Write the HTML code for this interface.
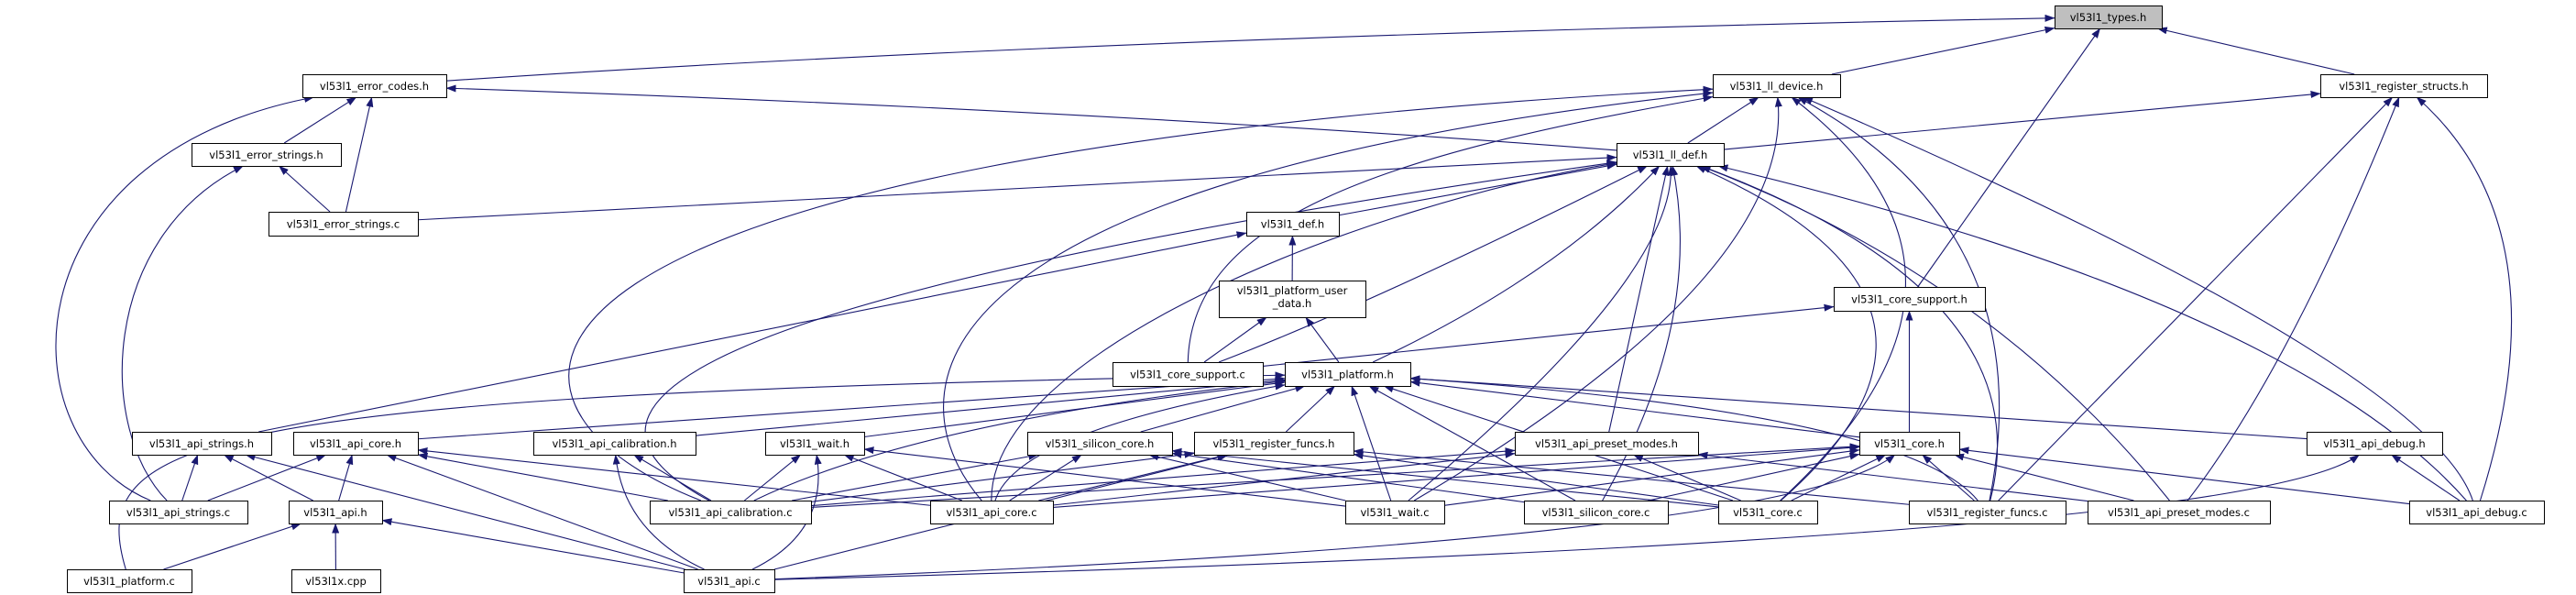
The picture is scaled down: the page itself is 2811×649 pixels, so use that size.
<!DOCTYPE html>
<html><head><meta charset="utf-8">
<style>
html,body{margin:0;padding:0;background:#fff;}
svg{display:block;}
text{font-family:"DejaVu Sans","Liberation Sans",sans-serif;font-size:11.5px;fill:#000;}
</style></head>
<body>
<svg id="g" width="2811" height="649" viewBox="0 0 2811 649" xmlns="http://www.w3.org/2000/svg">
<defs>
<marker id="a" markerUnits="userSpaceOnUse" markerWidth="11" markerHeight="8" refX="10.5" refY="4" orient="auto">
<path d="M0,0 L11,4 L0,8 z" fill="#191970"/>
</marker>
</defs>
<g id="edges" fill="none" stroke="#191970" stroke-width="1.1"></g>
<g id="nodes"></g>
</svg>
<script>
var N={
types:[2242,6,117,25,"vl53l1_types.h",1],
error_codes:[330,81,157,25,"vl53l1_error_codes.h"],
ll_device:[1869,81,139,25,"vl53l1_ll_device.h"],
register_structs:[2532,81,182,25,"vl53l1_register_structs.h"],
error_strings_h:[209,156,163,25,"vl53l1_error_strings.h"],
ll_def:[1764,156,117,25,"vl53l1_ll_def.h"],
error_strings_c:[293,231,163,26,"vl53l1_error_strings.c"],
def:[1360,231,101,26,"vl53l1_def.h"],
core_support_h:[2001,313,165,26,"vl53l1_core_support.h"],
pud:[1330,306,160,40,"vl53l1_platform_user|_data.h"],
core_support_c:[1214,395,164,26,"vl53l1_core_support.c"],
platform_h:[1402,395,137,26,"vl53l1_platform.h"],
api_strings_h:[144,471,152,25,"vl53l1_api_strings.h"],
api_core_h:[320,471,136,25,"vl53l1_api_core.h"],
api_calibration_h:[582,471,177,25,"vl53l1_api_calibration.h"],
wait_h:[835,471,108,25,"vl53l1_wait.h"],
silicon_core_h:[1121,471,158,25,"vl53l1_silicon_core.h"],
register_funcs_h:[1303,471,174,25,"vl53l1_register_funcs.h"],
api_preset_modes_h:[1653,471,200,25,"vl53l1_api_preset_modes.h"],
core_h:[2029,471,109,25,"vl53l1_core.h"],
api_debug_h:[2517,471,148,25,"vl53l1_api_debug.h"],
api_strings_c:[119,546,151,25,"vl53l1_api_strings.c"],
api_h:[315,546,102,25,"vl53l1_api.h"],
api_calibration_c:[709,546,176,25,"vl53l1_api_calibration.c"],
api_core_c:[1015,546,134,25,"vl53l1_api_core.c"],
wait_c:[1468,546,108,25,"vl53l1_wait.c"],
silicon_core_c:[1663,546,157,25,"vl53l1_silicon_core.c"],
core_c:[1875,546,108,25,"vl53l1_core.c"],
register_funcs_c:[2083,546,171,25,"vl53l1_register_funcs.c"],
api_preset_modes_c:[2278,546,199,25,"vl53l1_api_preset_modes.c"],
api_debug_c:[2629,546,147,25,"vl53l1_api_debug.c"],
platform_c:[73,621,136,25,"vl53l1_platform.c"],
x_cpp:[318,621,97,25,"vl53l1x.cpp"],
api_c:[746,621,99,25,"vl53l1_api.c"]
};
var E=[
['error_codes','types',[[1200,40]]],['ll_device','types'],['register_structs','types'],['core_support_h','types'],
['ll_def','error_codes',[[1200,120]]],['ll_def','ll_device'],['ll_def','register_structs'],
['error_strings_h','error_codes'],['error_strings_c','error_codes'],['error_strings_c','error_strings_h'],
['api_strings_c','error_codes',[[5,480],[5,170]]],['api_strings_c','error_strings_h',[[107,470],[107,260]]],
['error_strings_c','ll_def'],['def','ll_def'],['api_strings_h','def'],['pud','def'],['core_support_c','pud'],['platform_h','pud'],
['core_support_c','core_support_h'],['core_support_c','ll_def',[[1500,330]]],['core_support_c','ll_device',[[1300,240],[1500,170]]],
['platform_h','ll_def',[[1700,300]]],
['api_calibration_c','ll_device',[[493,440],[480,170]]],['api_calibration_c','ll_def',[[540,420],[900,300]]],
['api_core_c','ll_device',[[980,440],[960,200]]],['api_core_c','ll_def',[[1080,380],[1500,220]]],
['api_preset_modes_h','ll_def'],['wait_c','ll_device',[[1960,300]]],['wait_c','ll_def',[[1830,300]]],
['silicon_core_c','ll_def',[[1860,350]]],['core_c','ll_device',[[2210,300]]],['core_c','ll_def',[[2190,330]]],
['register_funcs_c','ll_def',[[2230,320]]],['register_funcs_c','ll_device',[[2230,250]]],['register_funcs_c','register_structs'],
['api_preset_modes_c','ll_def',[[2170,300]]],['api_preset_modes_c','register_structs',[[2500,400]]],
['api_debug_c','ll_def',[[2500,330]]],['api_debug_c','ll_device',[[2650,400]]],['api_debug_c','register_structs',[[2800,250]]],
['core_h','core_support_h'],
['platform_c','platform_h',[[95,480],[200,430]]],
['api_core_h','platform_h'],['api_calibration_h','platform_h'],['wait_h','platform_h'],['silicon_core_h','platform_h'],
['register_funcs_h','platform_h'],['core_h','platform_h'],['api_debug_h','platform_h'],
['api_calibration_c','platform_h',[[1000,460]]],['api_core_c','platform_h',[[1110,470]]],['wait_c','platform_h'],
['silicon_core_c','platform_h'],['core_c','platform_h'],['register_funcs_c','platform_h',[[2080,450]]],
['api_strings_c','api_strings_h'],['api_h','api_strings_h'],['api_c','api_strings_h'],
['api_strings_c','api_core_h'],['api_h','api_core_h'],['api_c','api_core_h'],['api_calibration_c','api_core_h'],['api_core_c','api_core_h'],
['api_calibration_c','api_calibration_h'],['api_c','api_calibration_h',[[680,580]]],
['api_calibration_c','wait_h'],['api_c','wait_h',[[905,580]]],['api_core_c','wait_h'],['wait_c','wait_h'],
['api_calibration_c','silicon_core_h'],['api_core_c','silicon_core_h'],['silicon_core_c','silicon_core_h'],['core_c','silicon_core_h'],['wait_c','silicon_core_h'],
['api_calibration_c','register_funcs_h'],['api_core_c','register_funcs_h'],['api_c','register_funcs_h'],['register_funcs_c','register_funcs_h'],['core_c','register_funcs_h'],
['api_calibration_c','api_preset_modes_h'],['api_core_c','api_preset_modes_h'],['core_c','api_preset_modes_h'],['api_preset_modes_c','api_preset_modes_h'],
['api_calibration_c','core_h'],['api_core_c','core_h'],['wait_c','core_h'],['silicon_core_c','core_h'],['core_c','core_h'],
['register_funcs_c','core_h'],['api_preset_modes_c','core_h'],['api_debug_c','core_h'],['api_c','core_h',[[1950,590]]],
['api_debug_c','api_debug_h'],['api_c','api_debug_h',[[2450,590]]],
['platform_c','api_h'],['x_cpp','api_h'],['api_c','api_h']
];
function cen(b){return [b[0]+b[2]/2,b[1]+b[3]/2];}
function bnd(b,p){var c=cen(b),dx=p[0]-c[0],dy=p[1]-c[1];var hw=b[2]/2,hh=b[3]/2;
 var t=Math.min(dx?hw/Math.abs(dx):1e9,dy?hh/Math.abs(dy):1e9);return [c[0]+dx*t,c[1]+dy*t];}
var eg=document.getElementById('edges'),ng=document.getElementById('nodes'),ns="http://www.w3.org/2000/svg";
E.forEach(function(e){var a=N[e[0]],b=N[e[1]],cp=e[2]||[];
 var s=bnd(a,cp.length?cp[0]:cen(b)),t=bnd(b,cp.length?cp[cp.length-1]:cen(a));
 var d="M"+s[0]+","+s[1];
 if(cp.length==1)d+=" Q"+cp[0][0]+","+cp[0][1]+" "+t[0]+","+t[1];
 else if(cp.length==2)d+=" C"+cp[0][0]+","+cp[0][1]+" "+cp[1][0]+","+cp[1][1]+" "+t[0]+","+t[1];
 else d+=" L"+t[0]+","+t[1];
 var p=document.createElementNS(ns,'path');p.setAttribute('d',d);p.setAttribute('marker-end','url(#a)');eg.appendChild(p);});
for(var k in N){var b=N[k];var r=document.createElementNS(ns,'rect');
 r.setAttribute('x',b[0]+.5);r.setAttribute('y',b[1]+.5);r.setAttribute('width',b[2]);r.setAttribute('height',b[3]);
 r.setAttribute('fill',b[5]?'#bfbfbf':'#fff');r.setAttribute('stroke','#000');r.setAttribute('stroke-width','1');
 ng.appendChild(r);
 var lines=b[4].split('|');
 lines.forEach(function(L,i){var t=document.createElementNS(ns,'text');
  t.setAttribute('x',b[0]+b[2]/2);t.setAttribute('text-anchor','middle');
  var y=lines.length==1?b[1]+b[3]/2+4.5:b[1]+15+i*14;t.setAttribute('y',y);
  t.textContent=L;ng.appendChild(t);});
}
</script>
</body></html>
